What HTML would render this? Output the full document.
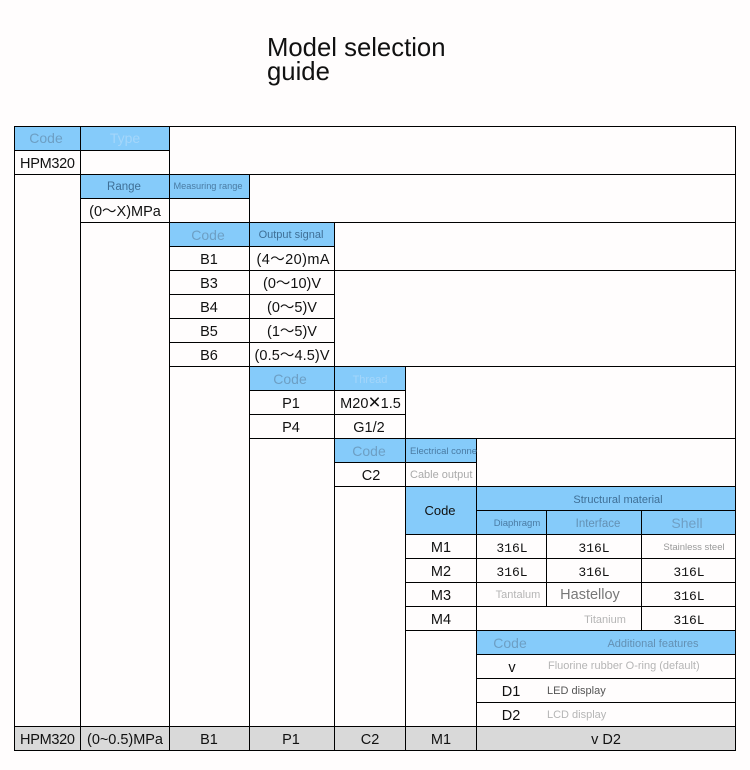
<!DOCTYPE html>
<html><head><meta charset="utf-8">
<style>
html,body{margin:0;padding:0;width:750px;height:770px;overflow:hidden;background:#fffdfd}
svg{display:block}
text{font-family:"Liberation Sans","Noto Sans CJK SC",sans-serif;text-anchor:middle;font-size:14.5px;fill:#111}
.t{font-size:25.7px;text-anchor:start;fill:#111}
.hb{fill:#6d9fc4;font-size:14px}
.hs{fill:#4a7ba3;font-size:11px}
.hm{fill:#3f6f96;font-size:11px}
.f{fill:#b5b5b5;font-size:11px}
.fd{fill:#555;font-size:11px}
.m{font-family:"Liberation Mono",monospace;font-size:13px;fill:#111}
line{stroke:#000;stroke-width:1}
</style></head><body>
<svg width="750" height="770" viewBox="0 0 750 770" xmlns="http://www.w3.org/2000/svg">
<text class="t" x="267" y="56">Model selection</text>
<text class="t" x="267" y="80">guide</text>

<g fill="#85cbfa">
<rect x="14" y="126" width="155" height="24"/>
<rect x="80" y="174" width="169" height="24"/>
<rect x="169" y="222" width="165" height="24"/>
<rect x="249" y="366" width="156" height="24"/>
<rect x="334" y="438" width="142" height="24"/>
<rect x="405" y="486" width="330" height="48"/>
<rect x="476" y="630" width="259" height="24"/>
</g>
<rect x="14" y="726" width="721" height="24" fill="#d9d9d9"/>

<g>
<line x1="14" x2="736" y1="126.5" y2="126.5"/>
<line x1="14" x2="170" y1="150.5" y2="150.5"/>
<line x1="14" x2="736" y1="174.5" y2="174.5"/>
<line x1="80" x2="250" y1="198.5" y2="198.5"/>
<line x1="80" x2="736" y1="222.5" y2="222.5"/>
<line x1="169" x2="335" y1="246.5" y2="246.5"/>
<line x1="169" x2="736" y1="270.5" y2="270.5"/>
<line x1="169" x2="335" y1="294.5" y2="294.5"/>
<line x1="169" x2="335" y1="318.5" y2="318.5"/>
<line x1="169" x2="335" y1="342.5" y2="342.5"/>
<line x1="169" x2="736" y1="366.5" y2="366.5"/>
<line x1="249" x2="406" y1="390.5" y2="390.5"/>
<line x1="249" x2="406" y1="414.5" y2="414.5"/>
<line x1="249" x2="736" y1="438.5" y2="438.5"/>
<line x1="334" x2="477" y1="462.5" y2="462.5"/>
<line x1="334" x2="736" y1="486.5" y2="486.5"/>
<line x1="476" x2="736" y1="510.5" y2="510.5"/>
<line x1="405" x2="736" y1="534.5" y2="534.5"/>
<line x1="405" x2="736" y1="558.5" y2="558.5"/>
<line x1="405" x2="736" y1="582.5" y2="582.5"/>
<line x1="405" x2="736" y1="606.5" y2="606.5"/>
<line x1="405" x2="736" y1="630.5" y2="630.5"/>
<line x1="476" x2="736" y1="654.5" y2="654.5"/>
<line x1="476" x2="736" y1="678.5" y2="678.5"/>
<line x1="476" x2="736" y1="702.5" y2="702.5"/>
<line x1="14" x2="736" y1="726.5" y2="726.5"/>
<line x1="14" x2="736" y1="750.5" y2="750.5"/>

<line x1="14.5" x2="14.5" y1="126" y2="751"/>
<line x1="80.5" x2="80.5" y1="126" y2="751"/>
<line x1="169.5" x2="169.5" y1="126" y2="751"/>
<line x1="249.5" x2="249.5" y1="174" y2="751"/>
<line x1="334.5" x2="334.5" y1="222" y2="751"/>
<line x1="405.5" x2="405.5" y1="366" y2="751"/>
<line x1="476.5" x2="476.5" y1="438" y2="751"/>
<line x1="546.5" x2="546.5" y1="510" y2="606"/>
<line x1="641.5" x2="641.5" y1="510" y2="630"/>
<line x1="735.5" x2="735.5" y1="126" y2="751"/>
</g>

<text class="hb" x="46" y="143">Code</text>
<text class="hb" x="125" y="143" style="fill:#a4d6fa">Type</text>
<text x="47.5" y="168" textLength="55" lengthAdjust="spacing">HPM320</text>

<text class="hm" x="124" y="190" style="font-size:11.5px">Range</text>
<text class="hs" x="208" y="189" style="font-size:9.2px">Measuring range</text>
<text x="125" y="216">(0～X)MPa</text>

<text class="hb" x="208" y="240">Code</text>
<text class="hm" x="291" y="238">Output signal</text>

<text x="209" y="264">B1</text><text x="293" y="264" textLength="73" lengthAdjust="spacing">(4～20)mA</text>
<text x="209" y="288">B3</text><text x="292" y="288">(0～10)V</text>
<text x="209" y="312">B4</text><text x="292" y="312">(0～5)V</text>
<text x="209" y="336">B5</text><text x="292" y="336">(1～5)V</text>
<text x="209" y="360">B6</text><text x="292" y="360" textLength="75" lengthAdjust="spacing">(0.5～4.5)V</text>

<text class="hb" x="290" y="384">Code</text>
<text class="hs" x="370" y="383" style="fill:#a4d6fa">Thread</text>
<text x="291" y="408">P1</text><text x="370.5" y="408">M20<tspan style="font-size:21px" dy="1">×</tspan><tspan dy="-1">1.5</tspan></text>
<text x="291" y="432">P4</text><text x="369" y="432">G1/2</text>

<text class="hb" x="369" y="456">Code</text>
<text class="hs" x="410" y="454" style="text-anchor:start;font-size:9.5px">Electrical conne</text>
<text x="371" y="480">C2</text>
<text class="f" x="410" y="478" style="text-anchor:start;fill:#aaa;font-size:11px">Cable output</text>

<text x="440" y="515" style="font-size:13px">Code</text>
<text class="hm" x="618" y="503">Structural material</text>
<text class="hs" x="517" y="526" style="font-size:9.5px">Diaphragm</text>
<text class="hm" x="598" y="527" style="font-size:11.5px;fill:#6390b3">Interface</text>
<text class="hb" x="687" y="528" style="font-size:14px;fill:#6f9fc4">Shell</text>

<text x="441" y="552">M1</text>
<text class="m" x="512" y="552">316L</text><text class="m" x="594" y="552">316L</text>
<text class="f" x="694" y="550" style="font-size:9.5px;fill:#999">Stainless steel</text>
<text x="441" y="576">M2</text>
<text class="m" x="512" y="576">316L</text><text class="m" x="594" y="576">316L</text><text class="m" x="689" y="576">316L</text>
<text x="441" y="600">M3</text>
<text class="f" x="518" y="598">Tantalum</text>
<text x="590" y="599" style="fill:#777">Hastelloy</text>
<text class="m" x="689" y="600">316L</text>
<text x="441" y="624">M4</text>
<text class="f" x="605" y="623">Titanium</text>
<text class="m" x="689" y="624">316L</text>

<text class="hb" x="510" y="648">Code</text>
<text class="hm" x="653" y="647" style="fill:#6390b3">Additional features</text>
<text x="512" y="672">v</text>
<text class="f" x="548" y="669" style="text-anchor:start">Fluorine rubber O-ring (default)</text>
<text x="511" y="696">D1</text>
<text class="fd" x="547" y="694" style="text-anchor:start">LED display</text>
<text x="511" y="720">D2</text>
<text class="f" x="547" y="718" style="text-anchor:start">LCD display</text>

<text x="47.5" y="744" textLength="55" lengthAdjust="spacing">HPM320</text>
<text x="125" y="744" textLength="76" lengthAdjust="spacing">(0~0.5)MPa</text>
<text x="209" y="744">B1</text>
<text x="291" y="744">P1</text>
<text x="370" y="744">C2</text>
<text x="441" y="744">M1</text>
<text x="606" y="744">v D2</text>
</svg>
</body></html>
